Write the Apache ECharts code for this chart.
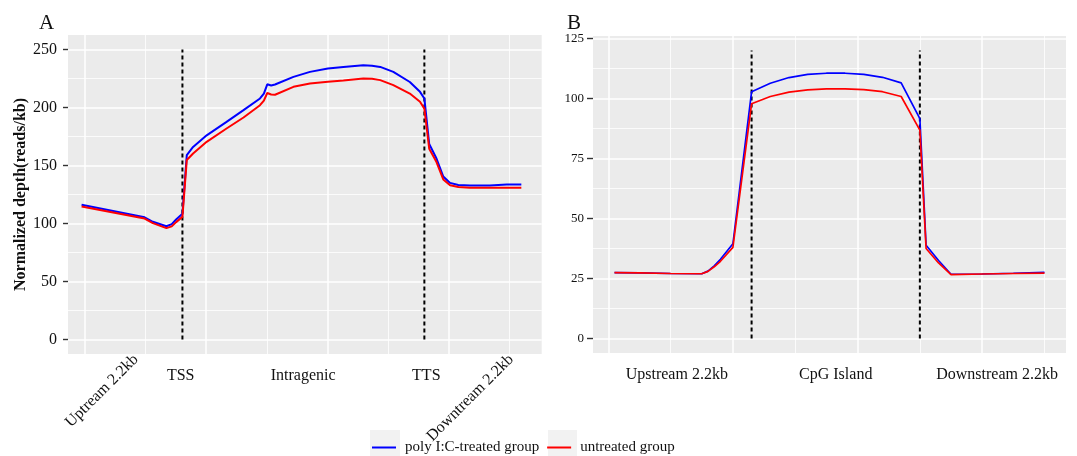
<!DOCTYPE html>
<html lang="en">
<head>
<meta charset="UTF-8">
<title>Normalized depth profiles</title>
<style>
  html, body { margin: 0; padding: 0; background: #fff; }
  #chart { width: 1077px; height: 456px; }
</style>
<script src="https://cdn.jsdelivr.net/npm/echarts@6/dist/echarts.min.js"></script>
</head>
<body>
<div id="chart"></div>
<script>
// panel A : upstream / gene body / downstream
var aX = [-0.7, 12.3, 14.0, 16.8, 17.9, 18.8, 20.1, 21.0, 22.3, 25.1, 29.2, 32.7, 36.1, 36.9, 37.6, 38.4, 39.2,
          43.0, 46.4, 50.1, 53.3, 57.4, 59.2, 60.9, 63.6, 67.0, 69.1, 70.0, 71.0, 72.5, 73.9, 75.3, 77.0, 79.4,
          83.5, 87.0, 90.0];
var aPoly = [116.2, 105.3, 101.5, 97.6, 99.5, 103.5, 108.3, 159, 166, 176, 187.6, 197.7, 207.8, 212, 220, 219, 219.8,
             226.4, 230.7, 233.6, 235, 236.5, 236, 235, 230.7, 222, 213.5, 207.8, 168.5, 156, 140.5, 135, 133.2, 132.7,
             132.7, 133.6, 133.6];
var aUntreated = [114.7, 104.3, 100.3, 96.0, 97.5, 101.2, 105.7, 154.8, 160.3, 170.4, 181.9, 191.4, 202, 206, 212.5, 211.2, 211,
                  217.8, 220.7, 222.1, 223.2, 225, 224.8, 223.6, 219.3, 212, 204.9, 199, 164.5, 153, 138, 133, 131.5, 130.8,
                  130.8, 130.8, 130.8];
var aDash = [20.1, 70];
var aLabelPos = [19.75, 45, 70.4];
var aLabels = ['TSS', 'Intragenic', 'TTS'];
var aSidePos = [10.5, 87.9];
var aSideLabels = ['Uptream 2.2kb', 'Downtream 2.2kb'];
var aYTicks = [0, 50, 100, 150, 200, 250];
var aYMinor = [25, 75, 125, 175, 225];
var aXMajor = [0, 25, 50, 75];
var aXMinor = [12.5, 37.5, 62.5, 87.5];

// panel B : CpG island
var bX = [1, 5, 10, 15, 16, 17, 18, 20, 23, 26, 29, 32, 35, 38, 41, 44, 47, 50, 51, 53, 55, 60, 65, 70];
var bPoly = [27.5, 27.4, 27.1, 27.0, 28.1, 30.3, 33.0, 39.5, 102.8, 106.3, 108.7, 110.0, 110.5, 110.5, 110.0, 108.8, 106.5, 91.6,
             38.9, 32.5, 26.8, 26.9, 27.2, 27.6];
var bUntreated = [27.5, 27.4, 27.1, 27.0, 28.0, 29.9, 32.2, 38.0, 97.8, 100.8, 102.6, 103.6, 104.0, 104.0, 103.7, 102.8, 100.8, 86.8,
                  37.5, 31.5, 26.6, 26.9, 27.1, 27.3];
var bDash = [23, 50];
var bLabelPos = [11, 36.5, 62.4];
var bLabels = ['Upstream 2.2kb', 'CpG Island', 'Downstream 2.2kb'];
var bYTicks = [0, 25, 50, 75, 100, 125];
var bYMinor = [12.5, 37.5, 62.5, 87.5, 112.5];
var bXMajor = [0, 20, 40, 60];
var bXMinor = [10, 30, 50, 70];

var seriesNames = ['poly I:C-treated group', 'untreated group'];

var serif = "'Liberation Serif', 'DejaVu Serif', serif";
var grey = '#EBEBEB';

function pairs(xs, ys) {
  return xs.map(function (x, i) { return [x, ys[i]]; });
}
function nameAt(pos, names) {
  return function (v) {
    for (var i = 0; i < pos.length; i++) {
      if (Math.abs(pos[i] - v) < 1e-6) return names[i];
    }
    return '';
  };
}

function majorX(grid, min, max, ticks, labelPos, labels) {
  return {
    type: 'value', gridIndex: grid, position: 'bottom', min: min, max: max,
    axisLine: { show: false, onZero: false },
    axisTick: { show: false, customValues: ticks },
    splitLine: { show: true, lineStyle: { color: '#fff', width: 1.5 } },
    axisLabel: {
      customValues: labelPos, formatter: nameAt(labelPos, labels),
      fontFamily: serif, fontSize: 16, color: '#111', margin: 14
    }
  };
}
function minorX(grid, min, max, ticks, labelPos, labels) {
  return {
    type: 'value', gridIndex: grid, position: 'bottom', min: min, max: max,
    axisLine: { show: false, onZero: false },
    axisTick: { show: false, customValues: ticks },
    splitLine: { show: true, lineStyle: { color: '#fff', width: 0.8 } },
    axisLabel: labelPos ? {
      customValues: labelPos, formatter: nameAt(labelPos, labels), rotate: 45,
      fontFamily: serif, fontSize: 16, color: '#111', margin: 3
    } : { show: false }
  };
}
function majorY(grid, min, max, ticks, fontSize, tickLen, margin) {
  return {
    type: 'value', gridIndex: grid, position: 'left', min: min, max: max,
    axisLine: { show: false, onZero: false },
    axisTick: { show: true, customValues: ticks, length: tickLen, lineStyle: { color: '#333', width: 1.4 } },
    splitLine: { show: true, lineStyle: { color: '#fff', width: 1.5 } },
    axisLabel: { customValues: ticks, fontFamily: serif, fontSize: fontSize, color: '#111', margin: margin }
  };
}
function minorY(grid, min, max, ticks) {
  return {
    type: 'value', gridIndex: grid, position: 'left', min: min, max: max,
    axisLine: { show: false, onZero: false },
    axisTick: { show: false, customValues: ticks },
    splitLine: { show: true, lineStyle: { color: '#fff', width: 0.8 } },
    axisLabel: { show: false }
  };
}
function dashSeries(xi, yi, x, top) {
  return {
    type: 'line', xAxisIndex: xi, yAxisIndex: yi, silent: true, showSymbol: false,
    data: [[x, 0], [x, top]],
    lineStyle: { color: '#000', width: 2, type: [4, 3] }, z: 2
  };
}
function curve(name, xi, yi, xs, ys, color, width) {
  return {
    name: name, type: 'line', xAxisIndex: xi, yAxisIndex: yi, showSymbol: false,
    data: pairs(xs, ys), itemStyle: { color: color },
    lineStyle: { color: color, width: width }, z: 3
  };
}

var chart = echarts.init(document.getElementById('chart'));

var yA = majorY(0, -12.5, 262.5, aYTicks, 16, 5, 11);
yA.name = 'Normalized depth(reads/kb)';
yA.nameLocation = 'middle';
yA.nameGap = 39;
yA.nameTextStyle = { fontFamily: serif, fontSize: 16, fontWeight: 'bold', color: '#111' };

var option = {
  animation: false,
  backgroundColor: '#fff',
  title: [
    { text: 'A', left: 34, top: 8, textStyle: { fontFamily: serif, fontSize: 21, fontWeight: 'normal', color: '#111' } },
    { text: 'B', left: 562, top: 8, textStyle: { fontFamily: serif, fontSize: 21, fontWeight: 'normal', color: '#111' } }
  ],
  grid: [
    { left: 68, right: 1077 - 541.7, top: 35, bottom: 456 - 354, show: true, backgroundColor: grey, borderWidth: 0 },
    { left: 593, right: 11, top: 36, bottom: 456 - 353, show: true, backgroundColor: grey, borderWidth: 0 }
  ],
  xAxis: [
    majorX(0, -3.5, 94.2, aXMajor, aLabelPos, aLabels),
    minorX(0, -3.5, 94.2, aXMinor, aSidePos, aSideLabels),
    majorX(1, -2.45, 73.45, bXMajor, bLabelPos, bLabels),
    minorX(1, -2.45, 73.45, bXMinor, null, null)
  ],
  yAxis: [
    yA,
    minorY(0, -12.5, 262.5, aYMinor),
    majorY(1, -6, 126, bYTicks, 13, 6, 9),
    minorY(1, -6, 126, bYMinor)
  ],
  legend: {
    data: seriesNames,
    left: 372, top: 440, padding: 0,
    icon: 'rect', itemWidth: 24, itemHeight: 2, itemGap: 8,
    textStyle: { fontFamily: serif, fontSize: 15, color: '#111', padding: [0, 0, 0, 4] },
    z: 10
  },
  graphic: [
    { type: 'rect', shape: { x: 370, y: 430, width: 30, height: 26 }, style: { fill: '#F2F2F2' }, z: 1 },
    { type: 'rect', shape: { x: 548, y: 430, width: 29, height: 26 }, style: { fill: '#F2F2F2' }, z: 1 }
  ],
  series: [
    dashSeries(0, 0, aDash[0], 250),
    dashSeries(0, 0, aDash[1], 250),
    dashSeries(2, 2, bDash[0], 120),
    dashSeries(2, 2, bDash[1], 120),
    curve(seriesNames[0], 0, 0, aX, aPoly, '#0000FF', 2),
    curve(seriesNames[1], 0, 0, aX, aUntreated, '#FF0000', 2),
    curve(seriesNames[0], 2, 2, bX, bPoly, '#0000FF', 1.7),
    curve(seriesNames[1], 2, 2, bX, bUntreated, '#FF0000', 1.7)
  ]
};

chart.setOption(option);
</script>
</body>
</html>
